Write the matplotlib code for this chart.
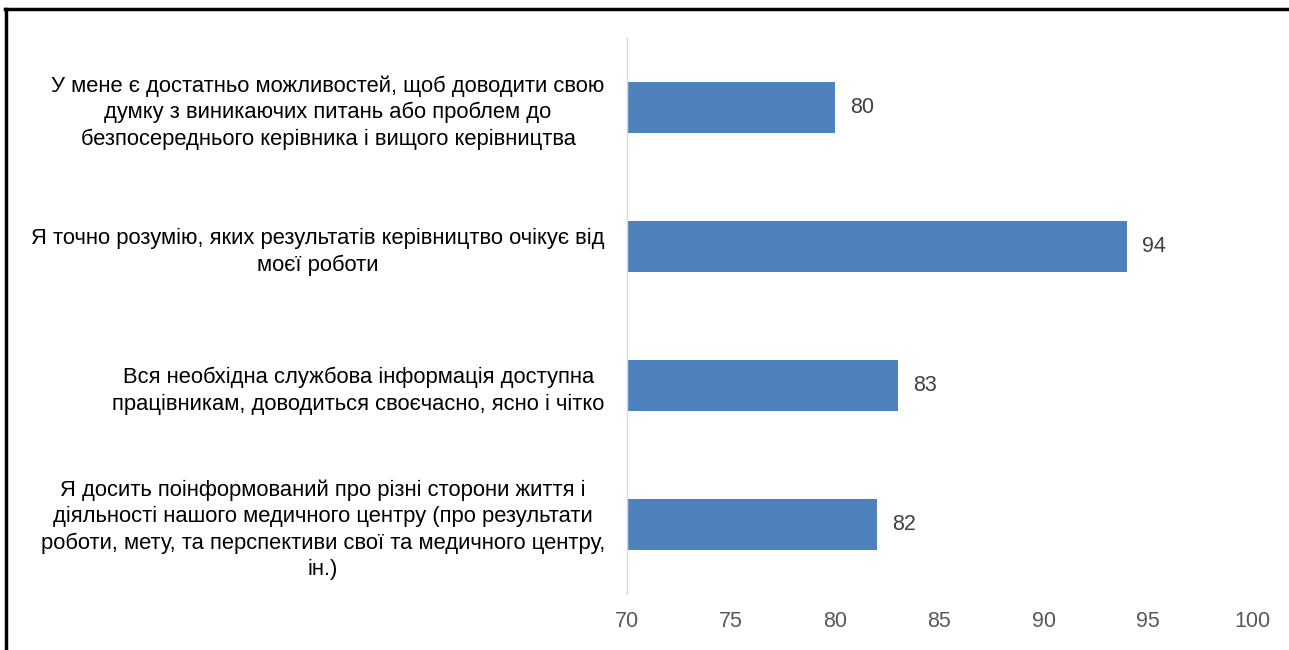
import matplotlib
matplotlib.use("Agg")
import matplotlib.pyplot as plt
from matplotlib.lines import Line2D

categories = [
    "У мене є достатньо можливостей, щоб доводити свою\nдумку з виникаючих питань або проблем до\nбезпосереднього керівника і вищого керівництва",
    "Я точно розумію, яких результатів керівництво очікує від\nмоєї роботи",
    "Вся необхідна службова інформація доступна\nпрацівникам, доводиться своєчасно, ясно і чітко",
    "Я досить поінформований про різні сторони життя і\nдіяльності нашого медичного центру (про результати\nроботи, мету, та перспективи свої та медичного центру,\nін.)",
]
values = [80, 94, 83, 82]
x_ticks = [70, 75, 80, 85, 90, 95, 100]

plt.rcParams['font.family'] = ['Liberation Sans', 'DejaVu Sans']

fig = plt.figure(figsize=(12.89, 6.5), dpi=100)
ax = fig.add_axes([627/1289, 1-594/650, (1252-627)/1289, (594-38)/650])

ypos = list(range(len(categories)))
ax.barh(ypos, values, height=0.36, color='#4F81BD')
ax.set_xlim(70, 100)
ax.set_ylim(len(categories)-0.5, -0.5)
ax.tick_params(axis='both', length=0)
ax.tick_params(axis='y', pad=16)
ax.tick_params(axis='x', pad=12)
ax.set_xticks(x_ticks)
ax.set_xticklabels([str(t) for t in x_ticks])
ax.set_yticks(ypos)
ax.set_yticklabels(categories)
for lab in ax.get_xticklabels():
    lab.set_fontsize(15.5)
    lab.set_color('#595959')
for lab in ax.get_yticklabels():
    lab.set_fontsize(15.8)
    lab.set_color('#000000')
    lab.set_ha('right')
    lab.set_multialignment('center')
    lab.set_linespacing(1.33)
for s in ['top', 'right', 'bottom']:
    ax.spines[s].set_visible(False)
ax.spines['left'].set_color('#D9D9D9')
ax.spines['left'].set_linewidth(1)

for y, v in zip(ypos, values):
    ax.annotate(str(v), xy=(v, y), xytext=(11, 0), textcoords='offset points',
                va='center', ha='left', fontsize=15.5, color='#404040')

# outer frame (top and left edges)
fig.add_artist(Line2D([5/1289, 1.0], [1-9/650, 1-9/650], transform=fig.transFigure, color='black', linewidth=2.5))
fig.add_artist(Line2D([6/1289, 6/1289], [0, 1-9/650], transform=fig.transFigure, color='black', linewidth=2.5))

fig.savefig('out.png', dpi=100, facecolor='white')
